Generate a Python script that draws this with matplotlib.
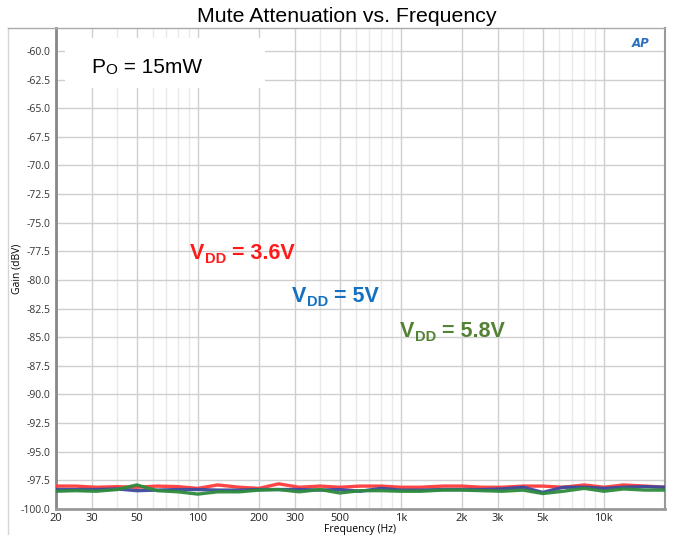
import matplotlib
matplotlib.use("Agg")
import matplotlib.pyplot as plt
from matplotlib.ticker import FixedLocator, FixedFormatter, NullFormatter
from matplotlib.lines import Line2D
from matplotlib.patches import Rectangle

freq = [20, 25, 31.5, 40, 50, 63, 80, 100, 125, 160, 200, 250, 315, 400, 500, 630,
        800, 1000, 1250, 1600, 2000, 2500, 3150, 4000, 5000, 6300, 8000, 10000,
        12500, 16000, 20000]
gain_36v = [-98.0, -98.0, -98.1, -98.05, -98.1, -98.0, -98.05, -98.2, -97.9, -98.1,
            -98.2, -97.8, -98.1, -98.0, -98.1, -98.0, -98.0, -98.1, -98.1, -98.0,
            -98.0, -98.1, -98.1, -98.0, -98.0, -98.1, -97.9, -98.1, -97.9, -98.0, -98.1]
gain_5v = [-98.3, -98.3, -98.3, -98.25, -98.4, -98.35, -98.3, -98.3, -98.35, -98.35,
           -98.3, -98.3, -98.3, -98.35, -98.3, -98.45, -98.2, -98.35, -98.35, -98.3,
           -98.3, -98.3, -98.25, -98.1, -98.55, -98.1, -98.1, -98.2, -98.1, -98.05, -98.1]
gain_58v = [-98.45, -98.4, -98.45, -98.3, -97.9, -98.4, -98.5, -98.7, -98.5, -98.5,
            -98.35, -98.3, -98.5, -98.3, -98.6, -98.4, -98.4, -98.45, -98.45, -98.35,
            -98.35, -98.4, -98.45, -98.35, -98.65, -98.45, -98.2, -98.45, -98.25, -98.35, -98.35]

major_ticks = [20, 30, 50, 100, 200, 300, 500, 1000, 2000, 3000, 5000, 10000]
major_labels = ['20', '30', '50', '100', '200', '300', '500', '1k', '2k', '3k', '5k', '10k']
minor_ticks = [40, 60, 70, 80, 90, 400, 600, 700, 800, 900, 4000, 6000, 7000, 8000,
               9000, 20000]
y_ticks = [-100 + 2.5 * i for i in range(17)]

fig = plt.figure(figsize=(6.8, 5.35), dpi=100)
ax = fig.add_axes([56 / 680, 1 - 509 / 535, (665 - 56) / 680, (509 - 28) / 535])

ax.plot(freq, gain_36v, color='#ff3b3b', lw=2.4, alpha=0.95, zorder=3)
ax.plot(freq, gain_5v, color='#3c4a9c', lw=2.4, alpha=0.95, zorder=4)
ax.plot(freq, gain_58v, color='#2e8b3e', lw=2.4, alpha=0.95, zorder=5)

ax.set_xscale('log')
ax.set_xlim(20, 20000)
ax.set_ylim(-100, -58)
ax.xaxis.set_major_locator(FixedLocator(major_ticks))
ax.xaxis.set_major_formatter(FixedFormatter(major_labels))
ax.xaxis.set_minor_locator(FixedLocator(minor_ticks))
ax.xaxis.set_minor_formatter(NullFormatter())
ax.set_yticks(y_ticks)
ax.set_yticklabels([f"{v:.1f}" for v in y_ticks])

ax.grid(True, which='major', color='#cfcfcf', lw=1.0, zorder=0)
ax.grid(True, which='minor', axis='x', color='#e9e9e9', lw=1.0, zorder=0)
ax.tick_params(which='both', length=0)
ax.tick_params(axis='y', labelsize=7.5, colors='#333333', pad=4)
ax.tick_params(axis='x', labelsize=8, colors='#222222', pad=3)
for lbl in ax.get_xticklabels() + ax.get_yticklabels():
    lbl.set_family('Open Sans')

for side, spine in ax.spines.items():
    spine.set_color('#999999')
ax.spines['left'].set_linewidth(2.0)
ax.spines['left'].set_color('#888888')
ax.spines['bottom'].set_linewidth(2.0)
ax.spines['bottom'].set_color('#999999')
ax.spines['right'].set_linewidth(1.5)
ax.spines['top'].set_linewidth(1.0)
ax.spines['top'].set_color('#aaaaaa')

ax.set_xlabel('Frequency (Hz)', fontsize=7.5, family='Open Sans', va='center')
ax.xaxis.set_label_coords(0.5, (509 - 529.5) / 481)
ax.set_ylabel('Gain (dBV)', fontsize=7.5, family='Open Sans', va='center')
ax.yaxis.set_label_coords((17 - 56) / 609, 0.5)

fig.text(347 / 680, 1 - 16 / 535, 'Mute Attenuation vs. Frequency', ha='center',
         va='center', fontsize=15.3, family='Liberation Sans')

# Po label with white box
ax.add_patch(Rectangle(((65 - 56) / 609, 1 - (88 - 28) / 481), 200 / 609, 50 / 481,
                       transform=ax.transAxes, fc='white', ec='none', zorder=6))
t1 = ax.text((91 - 56) / 609, 1 - (73 - 28) / 481, 'P', transform=ax.transAxes,
             fontsize=15, family='Liberation Sans', ha='left', va='baseline', zorder=7)
t2 = ax.annotate('O', xy=(1, 0), xycoords=t1, xytext=(0.5, 0), textcoords='offset points',
                 fontsize=11, family='Liberation Sans', ha='left', va='bottom', zorder=7)
ax.annotate(' = 15mW', xy=(1, 0), xycoords=t2, xytext=(0, 0), textcoords='offset points',
            fontsize=15, family='Liberation Sans', ha='left', va='bottom', zorder=7)


def vdd_label(xpx, ybase_px, rest, color):
    a = ax.text((xpx - 56) / 609, 1 - (ybase_px - 28) / 481, 'V', transform=ax.transAxes,
                fontsize=15.5, color=color, weight='bold', family='Liberation Sans',
                ha='left', va='baseline', zorder=7)
    b = ax.annotate('DD', xy=(1, 0), xycoords=a, xytext=(0.3, -1.5),
                    textcoords='offset points', fontsize=10.5, color=color, weight='bold',
                    family='Liberation Sans', ha='left', va='bottom', zorder=7)
    ax.annotate(rest, xy=(1, 0), xycoords=b, xytext=(0, 1.5), textcoords='offset points',
                fontsize=15.5, color=color, weight='bold', family='Liberation Sans',
                ha='left', va='bottom', zorder=7)


vdd_label(190, 259, ' = 3.6V', '#ff1a1a')
vdd_label(292, 302, ' = 5V', '#1470c0')
vdd_label(400, 337, ' = 5.8V', '#538135')

# AP logo
ax.text(0.975, 0.968, 'AP', transform=ax.transAxes, fontsize=8.5, color='#2a6fc0',
        weight='bold', style='italic', family='DejaVu Sans', ha='right', va='center')

# outer frame lines
fig.add_artist(Line2D([8 / 680, 8 / 680], [0, 1 - 28 / 535], color='#d5d5d5', lw=1.0))
fig.add_artist(Line2D([8 / 680, 56 / 680], [1 - 28 / 535, 1 - 28 / 535], color='#aaaaaa', lw=1.0))

fig.savefig('out.png', dpi=100)
